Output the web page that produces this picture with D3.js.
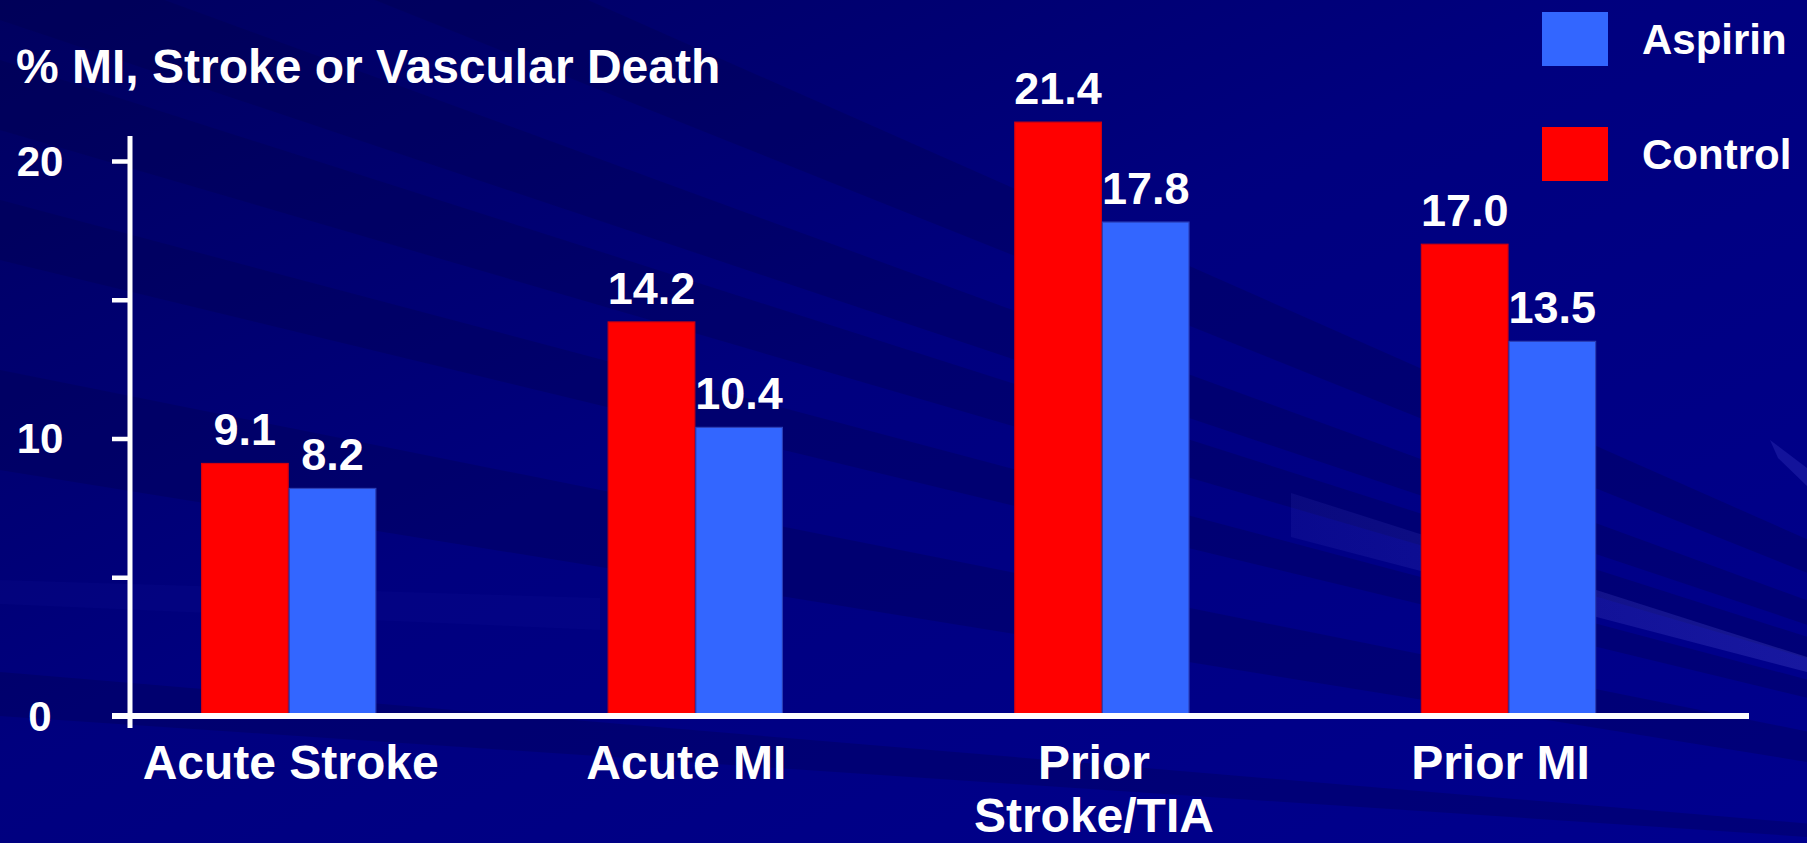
<!DOCTYPE html>
<html>
<head>
<meta charset="utf-8">
<script src="https://cdn.jsdelivr.net/npm/d3@7/dist/d3.min.js"></script>
<style>
  html, body { margin: 0; padding: 0; background: #00008c; overflow: hidden; }
  svg { display: block; }
  text { font-family: "Liberation Sans", Arial, Helvetica, sans-serif; font-weight: bold; fill: #ffffff; }
</style>
</head>
<body>
<svg id="chart" width="1807" height="843"></svg>
<script>
// Event rates by patient group
const categories = ["Acute Stroke", "Acute MI", "Prior Stroke/TIA", "Prior MI"];
const categoryLines = [["Acute Stroke"], ["Acute MI"], ["Prior", "Stroke/TIA"], ["Prior MI"]];
const seriesNames = ["Control", "Aspirin"];
const controlValues = [9.1, 14.2, 21.4, 17.0];
const aspirinValues = [8.2, 10.4, 17.8, 13.5];
const yTicks = [0, 5, 10, 15, 20];
const yTickLabels = ["0", "", "10", "", "20"];
const legendOrder = ["Aspirin", "Control"];
const titleText = "% MI, Stroke or Vascular Death";

const colors = { Control: "#ff0000", Aspirin: "#3366ff" };
const strokes = { Control: "#d00010", Aspirin: "#2a3fb8" };
// horizontal nudge of each category caption relative to its group centre
const captionShift = [2, -9, -8, -8];

const W = 1807, H = 843;
const svg = d3.select("#chart");

// ---- backdrop: navy field with faint rays converging off to the right ----
const defs = svg.append("defs");
const shade = defs.append("linearGradient").attr("id", "shade")
  .attr("x1", "0").attr("y1", "0").attr("x2", "1").attr("y2", "1");
shade.append("stop").attr("offset", "0").attr("stop-color", "#000050").attr("stop-opacity", 0.75);
shade.append("stop").attr("offset", "0.45").attr("stop-color", "#000050").attr("stop-opacity", 0.25);
shade.append("stop").attr("offset", "1").attr("stop-color", "#000050").attr("stop-opacity", 0);

const fadeR = defs.append("linearGradient").attr("id", "fadeR")
  .attr("x1", "0").attr("y1", "0").attr("x2", "1").attr("y2", "0");
fadeR.append("stop").attr("offset", "0").attr("stop-color", "#5050d0").attr("stop-opacity", 0.12);
fadeR.append("stop").attr("offset", "1").attr("stop-color", "#5050d0").attr("stop-opacity", 0.30);

svg.append("rect").attr("width", W).attr("height", H).attr("fill", "#00008e");
svg.append("rect").attr("width", W).attr("height", H).attr("fill", "url(#shade)");

const vp = [2600, 890];
// dark wedges, given by their two intercepts on the left edge
const darkRays = [[-260, -150], [-60, 20], [60, 130], [200, 260], [370, 470], [672, 716]];
const rayLine = d3.line();
darkRays.forEach(([a, b]) => {
  svg.append("path")
    .attr("d", rayLine([[0, a], vp, [0, b]]) + "Z")
    .attr("fill", "#000048").attr("opacity", 0.28);
});
// lighter streaks on the right
svg.append("path")
  .attr("d", rayLine([[1291, 493], [1807, 657], [1807, 672], [1291, 537]]) + "Z")
  .attr("fill", "url(#fadeR)");
svg.append("path")
  .attr("d", rayLine([[1770, 440], [1807, 468], [1807, 486], [1778, 458]]) + "Z")
  .attr("fill", "#4040c8").attr("opacity", 0.3);
svg.append("path")
  .attr("d", rayLine([[0, 580], [600, 598], [600, 630], [0, 604]]) + "Z")
  .attr("fill", "#1818a8").attr("opacity", 0.12);

// ---- scales ----
const baseY = 716, topY = 161;
const y = d3.scaleLinear().domain([0, 20]).range([baseY, topY]);
const x0 = d3.scaleBand().domain(categories).range([85.4, 1711.8])
  .paddingInner(0.569).paddingOuter(0.2845);
const x1 = d3.scaleBand().domain(seriesNames).range([0, x0.bandwidth()]);

const axisX = 130;

// ---- bars ----
const rows = categories.map((c, i) => ({
  category: c,
  values: [
    { series: "Control", value: controlValues[i] },
    { series: "Aspirin", value: aspirinValues[i] }
  ]
}));

const groups = svg.append("g").selectAll("g").data(rows).join("g")
  .attr("transform", d => `translate(${x0(d.category)},0)`);

groups.selectAll("rect").data(d => d.values).join("rect")
  .attr("x", d => x1(d.series) + 0.5)
  .attr("y", d => y(d.value))
  .attr("width", x1.bandwidth() - 1)
  .attr("height", d => baseY - y(d.value))
  .attr("fill", d => colors[d.series])
  .attr("stroke", d => strokes[d.series])
  .attr("stroke-width", 1.2);

groups.selectAll("text").data(d => d.values).join("text")
  .attr("x", d => x1(d.series) + x1.bandwidth() / 2)
  .attr("y", d => y(d.value) - 18)
  .attr("text-anchor", "middle")
  .attr("font-size", 45)
  .text(d => d.value.toFixed(1));

// ---- y axis ----
const yAxis = d3.axisLeft(y)
  .tickValues(yTicks)
  .tickSize(18)
  .tickSizeOuter(0)
  .tickFormat((d, i) => yTickLabels[i]);

const gy = svg.append("g").attr("transform", `translate(${axisX},0)`).call(yAxis);
gy.select(".domain").remove();
gy.selectAll(".tick line").attr("stroke", "#ffffff").attr("stroke-width", 4.5);
gy.selectAll(".tick text")
  .attr("x", -90)
  .attr("dy", "0.34em")
  .attr("text-anchor", "middle")
  .attr("font-size", 42)
  .attr("font-family", null)
  .attr("fill", "#ffffff");

svg.append("line")
  .attr("x1", axisX).attr("x2", axisX)
  .attr("y1", 136).attr("y2", 728)
  .attr("stroke", "#ffffff").attr("stroke-width", 5);

// ---- x axis ----
svg.append("line")
  .attr("x1", 112).attr("x2", 1749)
  .attr("y1", baseY).attr("y2", baseY)
  .attr("stroke", "#ffffff").attr("stroke-width", 6);

const xAxis = d3.axisBottom(x0).tickSize(0).tickFormat(() => "");
const gx = svg.append("g").attr("transform", `translate(0,${baseY})`).call(xAxis);
gx.select(".domain").remove();
gx.selectAll(".tick text").remove();
gx.selectAll(".tick").each(function (d, i) {
  const t = d3.select(this).append("text")
    .attr("text-anchor", "middle")
    .attr("font-size", 48)
    .attr("fill", "#ffffff")
    .attr("y", 63);
  categoryLines[i].forEach((line, k) => {
    t.append("tspan").attr("x", captionShift[i]).attr("dy", k === 0 ? 0 : 53).text(line);
  });
});

// ---- title ----
svg.append("text")
  .attr("x", 16).attr("y", 83)
  .attr("font-size", 48)
  .text(titleText);

// ---- legend ----
const legend = svg.append("g").selectAll("g").data(legendOrder).join("g")
  .attr("transform", (d, i) => `translate(1542,${12 + i * 115})`);
legend.append("rect")
  .attr("width", 66).attr("height", 54)
  .attr("fill", d => colors[d]);
legend.append("text")
  .attr("x", 100).attr("y", 42)
  .attr("font-size", 42)
  .text(d => d);
</script>
</body>
</html>
